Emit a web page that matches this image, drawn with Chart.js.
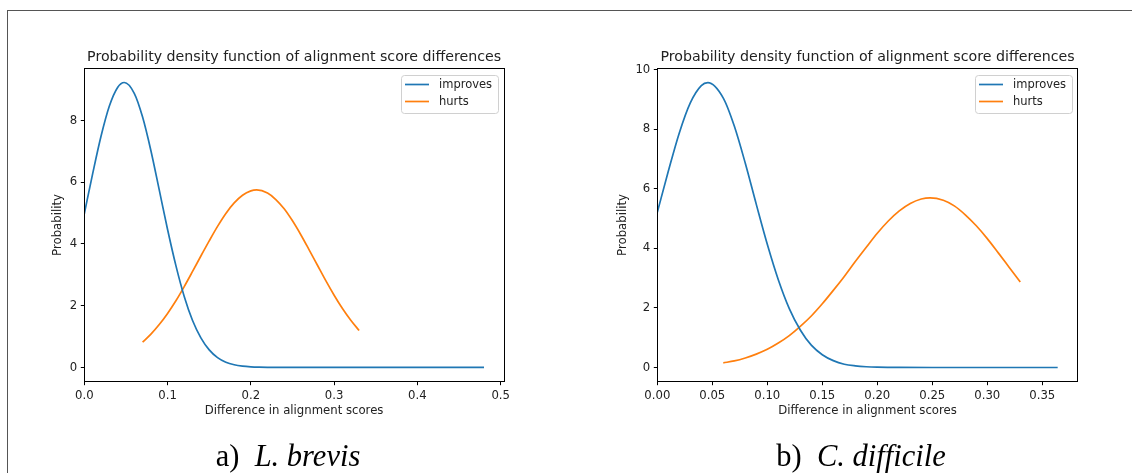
<!DOCTYPE html>
<html>
<head>
<meta charset="utf-8">
<script src="https://cdn.jsdelivr.net/npm/chart.js@4.4.1/dist/chart.umd.min.js"></script>
<style>
  html, body { margin: 0; padding: 0; background: #fff; }
  body { width: 1132px; height: 473px; position: relative; overflow: hidden; }
  .frame { position: absolute; left: 7px; top: 10px; width: 1125px; height: 463px;
           border-left: 1.5px solid #555; border-top: 1.5px solid #555; }
  canvas { position: absolute; top: 0; }
  .cap { position: absolute; top: 441px; width: 400px; text-align: center; white-space: pre;
         font-family: "Liberation Serif", "Times New Roman", serif; font-size: 30.5px; line-height: 30px; color: #000; }
  .cap i { font-style: italic; }
</style>
</head>
<body>
<div class="frame"></div>
<canvas id="chartA" width="566" height="473" style="left:0"></canvas>
<canvas id="chartB" width="566" height="473" style="left:566px"></canvas>
<div class="cap" style="left:88px">a)  <i>L. brevis</i></div>
<div class="cap" style="left:661px">b)  <i>C. difficile</i></div>

<script>
// ---- data ----
const seriesNames = ['improves', 'hurts'];
const chartTitle = 'Probability density function of alignment score differences';

// a) L. brevis
const aImprovesX = [0, 0.01, 0.02, 0.03, 0.04, 0.048, 0.06, 0.07, 0.08, 0.09, 0.10, 0.11, 0.12, 0.13, 0.14,
  0.15, 0.16, 0.17, 0.18, 0.19, 0.20, 0.21, 0.22, 0.23, 0.25, 0.30, 0.35, 0.40, 0.45, 0.48];
const aImprovesY = [4.98, 6.27, 7.48, 8.46, 9.07, 9.23, 8.88, 8.11, 7.02, 5.75, 4.47, 3.30, 2.30, 1.52, 0.96,
  0.57, 0.32, 0.17, 0.087, 0.042, 0.019, 0.008, 0.003, 0.001, 0, 0, 0, 0, 0, 0];
const aHurtsX = [0.07, 0.08, 0.09, 0.10, 0.11, 0.12, 0.13, 0.14, 0.15, 0.16, 0.17, 0.18, 0.19, 0.20,
  0.207, 0.22, 0.23, 0.24, 0.25, 0.26, 0.27, 0.28, 0.29, 0.30, 0.31, 0.32, 0.33];
const aHurtsY = [0.82, 1.08, 1.39, 1.75, 2.16, 2.62, 3.11, 3.61, 4.10, 4.57, 4.99, 5.33, 5.58, 5.72,
  5.75, 5.65, 5.44, 5.14, 4.75, 4.30, 3.81, 3.31, 2.81, 2.34, 1.91, 1.53, 1.20];
const aXTicks = [0, 0.1, 0.2, 0.3, 0.4, 0.5];
const aXLabels = ['0.0', '0.1', '0.2', '0.3', '0.4', '0.5'];
const aYTicks = [0, 2, 4, 6, 8];
const aYLabels = ['0', '2', '4', '6', '8'];

// b) C. difficile
const bImprovesX = [0, 0.01, 0.02, 0.03, 0.04, 0.046, 0.06, 0.07, 0.08, 0.09, 0.10, 0.11, 0.12, 0.13, 0.14,
  0.15, 0.16, 0.17, 0.18, 0.19, 0.20, 0.21, 0.22, 0.25, 0.30, 0.35, 0.364];
const bImprovesY = [5.21, 6.59, 7.88, 8.89, 9.47, 9.57, 9.05, 8.11, 6.86, 5.48, 4.14, 2.95, 1.98, 1.26, 0.75,
  0.43, 0.23, 0.11, 0.055, 0.025, 0.01, 0.004, 0.002, 0, 0, 0, 0];
const bHurtsX = [0.06, 0.07, 0.08, 0.09, 0.10, 0.11, 0.12, 0.13, 0.14, 0.15, 0.16, 0.17, 0.18, 0.19,
  0.20, 0.21, 0.22, 0.23, 0.24, 0.248, 0.26, 0.27, 0.28, 0.29, 0.30, 0.31, 0.32, 0.33];
const bHurtsY = [0.155, 0.22, 0.32, 0.45, 0.61, 0.82, 1.07, 1.38, 1.73, 2.14, 2.59, 3.06, 3.56, 4.04,
  4.51, 4.92, 5.26, 5.51, 5.66, 5.70, 5.62, 5.43, 5.13, 4.76, 4.33, 3.85, 3.36, 2.87];
const bXTicks = [0, 0.05, 0.10, 0.15, 0.20, 0.25, 0.30, 0.35];
const bXLabels = ['0.00', '0.05', '0.10', '0.15', '0.20', '0.25', '0.30', '0.35'];
const bYTicks = [0, 2, 4, 6, 8, 10];
const bYLabels = ['0', '2', '4', '6', '8', '10'];

// ---- styling ----
const BLUE = '#1f77b4';
const ORANGE = '#ff7f0e';
const FONT = '"DejaVu Sans", Verdana, sans-serif';
const TEXT = '#222';

function pts(xs, ys) {
  return xs.map((x, i) => ({ x: x, y: ys[i] }));
}

// matplotlib-like frame, title and legend box
const mplBox = {
  id: 'mplBox',
  afterDraw(chart, args, opts) {
    const ctx = chart.ctx;
    const a = chart.chartArea;
    ctx.save();
    ctx.strokeStyle = '#000';
    ctx.lineWidth = 1;
    ctx.strokeRect(Math.round(a.left) + 0.5, Math.round(a.top) + 0.5,
      Math.round(a.right - a.left), Math.round(a.bottom - a.top));

    ctx.fillStyle = TEXT;
    ctx.font = '14.2px ' + FONT;
    ctx.textAlign = 'center';
    ctx.textBaseline = 'alphabetic';
    ctx.fillText(opts.title, (a.left + a.right) / 2, a.top - 7.3);

    // legend
    const lw = 97, lh = 38;
    const lx = Math.round(a.right - 6 - lw), ly = Math.round(a.top + 7);
    ctx.beginPath();
    if (ctx.roundRect) ctx.roundRect(lx + 0.5, ly + 0.5, lw, lh, 3);
    else ctx.rect(lx + 0.5, ly + 0.5, lw, lh);
    ctx.fillStyle = 'rgba(255,255,255,0.8)';
    ctx.fill();
    ctx.strokeStyle = '#d0d0d0';
    ctx.lineWidth = 1;
    ctx.stroke();

    ctx.font = '11.5px ' + FONT;
    ctx.textAlign = 'left';
    ctx.textBaseline = 'middle';
    chart.data.datasets.forEach((ds, i) => {
      const y = ly + 9.5 + i * 17;
      ctx.strokeStyle = ds.borderColor;
      ctx.lineWidth = 1.7;
      ctx.beginPath();
      ctx.moveTo(lx + 4, y);
      ctx.lineTo(lx + 28, y);
      ctx.stroke();
      ctx.fillStyle = TEXT;
      ctx.fillText(ds.label, lx + 38, y + 0.5);
    });
    ctx.restore();
  }
};

function build(id, o) {
  const tickFont = { family: FONT, size: 11.7 };
  return new Chart(document.getElementById(id), {
    type: 'line',
    data: {
      datasets: [
        { label: seriesNames[0], data: pts(o.impX, o.impY), borderColor: BLUE },
        { label: seriesNames[1], data: pts(o.hurtX, o.hurtY), borderColor: ORANGE }
      ]
    },
    options: {
      responsive: false,
      animation: false,
      devicePixelRatio: 1,
      layout: { padding: o.pad },
      elements: {
        point: { radius: 0 },
        line: { borderWidth: 1.7, fill: false, cubicInterpolationMode: 'monotone' }
      },
      plugins: {
        legend: { display: false },
        tooltip: { enabled: false },
        mplBox: { title: chartTitle }
      },
      scales: {
        x: {
          type: 'linear',
          min: o.xMin, max: o.xMax,
          afterBuildTicks: s => { s.ticks = o.xTicks.map(v => ({ value: v })); },
          afterFit: s => { s.height = 36.7; },
          border: { display: false },
          grid: { drawOnChartArea: false, drawTicks: true, tickLength: 3.5, color: '#000', lineWidth: 1 },
          ticks: { autoSkip: false, maxRotation: 0, padding: 3.5, color: TEXT, font: tickFont,
                   callback: (v, i) => o.xLabels[i] },
          title: { display: true, text: 'Difference in alignment scores', padding: 0, color: TEXT, font: tickFont }
        },
        y: {
          type: 'linear',
          min: o.yMin, max: o.yMax,
          afterBuildTicks: s => { s.ticks = o.yTicks.map(v => ({ value: v })); },
          afterFit: s => { s.width = o.yWidth; },
          border: { display: false },
          grid: { drawOnChartArea: false, drawTicks: true, tickLength: 3.5, color: '#000', lineWidth: 1 },
          ticks: { padding: 3.5, color: TEXT, font: tickFont, callback: (v, i) => o.yLabels[i] },
          title: { display: true, text: 'Probability', padding: 0, color: TEXT, font: tickFont }
        }
      }
    },
    plugins: [mplBox]
  });
}

build('chartA', {
  impX: aImprovesX, impY: aImprovesY, hurtX: aHurtsX, hurtY: aHurtsY,
  xMin: 0, xMax: 0.504, yMin: -0.461, yMax: 9.69,
  xTicks: aXTicks, xLabels: aXLabels, yTicks: aYTicks, yLabels: aYLabels,
  yWidth: 33.2,
  pad: { left: 51.1, top: 68.3, right: 62, bottom: 54.6 }
});

build('chartB', {
  impX: bImprovesX, impY: bImprovesY, hurtX: bHurtsX, hurtY: bHurtsY,
  xMin: 0, xMax: 0.3822, yMin: -0.477, yMax: 10.05,
  xTicks: bXTicks, xLabels: bXLabels, yTicks: bYTicks, yLabels: bYLabels,
  yWidth: 40.9,
  pad: { left: 50.4, top: 68.3, right: 54.3, bottom: 54.6 }
});
</script>
</body>
</html>
